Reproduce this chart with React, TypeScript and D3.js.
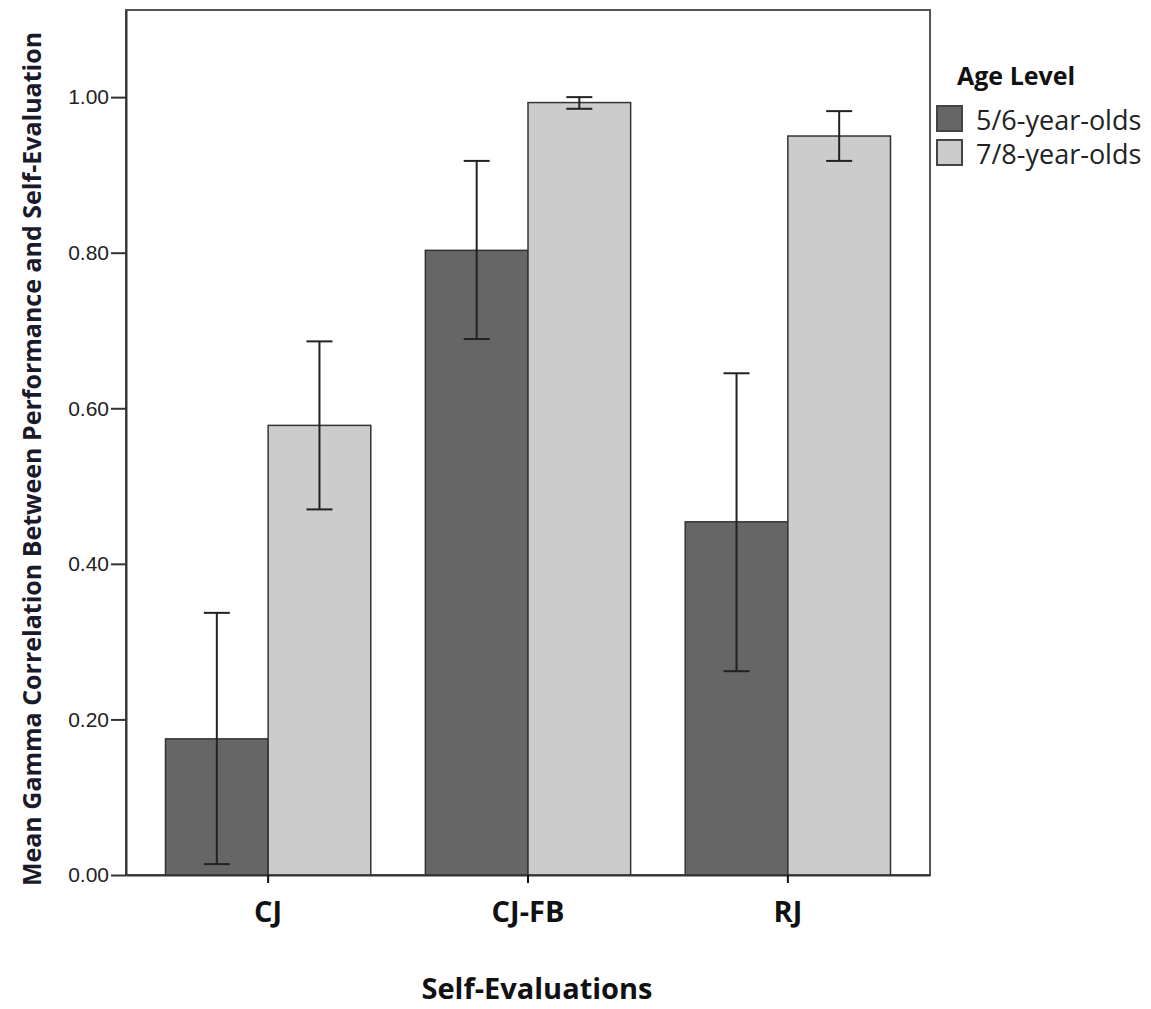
import React, { useEffect, useRef } from 'react'
import * as d3 from 'd3'

const categories = ['CJ', 'CJ-FB', 'RJ']
const ageGroups = ['5/6-year-olds', '7/8-year-olds']
const youngMeans = [0.175, 0.803, 0.454]
const youngLower = [0.014, 0.689, 0.262]
const youngUpper = [0.337, 0.918, 0.645]
const olderMeans = [0.578, 0.993, 0.95]
const olderLower = [0.47, 0.985, 0.918]
const olderUpper = [0.686, 1.0, 0.982]
const yTicks = [0, 0.2, 0.4, 0.6, 0.8, 1.0]

const W = 1151
const H = 1009
const plot = { left: 126, right: 930, top: 10, bottom: 875 }
const colors = ['#666666', '#cccccc']

const App = () => {
    const svgRef = useRef<SVGSVGElement>(null)

    useEffect(() => {
        const svg = d3.select(svgRef.current)
        svg.selectAll('*').remove()

        const rows = categories.map((c, i) => ({
            cat: c,
            vals: [
                { g: ageGroups[0], m: youngMeans[i], lo: youngLower[i], hi: youngUpper[i] },
                { g: ageGroups[1], m: olderMeans[i], lo: olderLower[i], hi: olderUpper[i] },
            ],
        }))

        const x0 = d3.scaleBand().domain(categories)
            .range([plot.left, plot.right])
            .paddingInner(0.21)
            .paddingOuter(0.152)
        const x1 = d3.scaleBand().domain(ageGroups).range([0, x0.bandwidth()])
        const y = d3.scaleLinear().domain([0, 1.112]).range([plot.bottom, plot.top])
        const color = d3.scaleOrdinal<string, string>().domain(ageGroups).range(colors)

        // frame
        svg.append('rect')
            .attr('x', plot.left).attr('y', plot.top)
            .attr('width', plot.right - plot.left).attr('height', plot.bottom - plot.top)
            .attr('fill', 'none').attr('stroke', '#555').attr('stroke-width', 2)

        // bars
        const grp = svg.append('g').selectAll('g').data(rows).join('g')
            .attr('transform', d => `translate(${x0(d.cat)},0)`)

        grp.selectAll('rect').data(d => d.vals).join('rect')
            .attr('x', d => x1(d.g)!)
            .attr('y', d => y(d.m))
            .attr('width', x1.bandwidth())
            .attr('height', d => y(0) - y(d.m))
            .attr('fill', d => color(d.g))
            .attr('stroke', '#333')
            .attr('stroke-width', 1.5)

        // error bars
        const cap = 13
        const eb = grp.selectAll('g.err').data(d => d.vals).join('g').attr('class', 'err')
            .attr('transform', d => `translate(${x1(d.g)! + x1.bandwidth() / 2},0)`)
            .attr('stroke', '#222').attr('stroke-width', 2)
        eb.append('line').attr('x1', 0).attr('x2', 0).attr('y1', d => y(d.lo)).attr('y2', d => y(d.hi))
        eb.append('line').attr('x1', -cap).attr('x2', cap).attr('y1', d => y(d.hi)).attr('y2', d => y(d.hi))
        eb.append('line').attr('x1', -cap).attr('x2', cap).attr('y1', d => y(d.lo)).attr('y2', d => y(d.lo))

        // y axis
        const yAxis = svg.append('g')
            .attr('transform', `translate(${plot.left},0)`)
            .call(d3.axisLeft(y).tickValues(yTicks).tickFormat(d3.format('.2f'))
                .tickSize(15).tickSizeOuter(0).tickPadding(2))
        yAxis.select('.domain').attr('stroke', '#333').attr('stroke-width', 2)
        yAxis.selectAll('.tick line').attr('stroke', '#333').attr('stroke-width', 2)
        yAxis.selectAll('.tick text')
            .attr('font-family', '"Liberation Sans", Arial, sans-serif')
            .attr('font-size', 21).attr('fill', '#222')

        // x axis
        const xAxis = svg.append('g')
            .attr('transform', `translate(0,${plot.bottom})`)
            .call(d3.axisBottom(x0).tickSize(8).tickSizeOuter(0).tickPadding(18))
        xAxis.select('.domain').attr('stroke', '#333').attr('stroke-width', 2)
        xAxis.selectAll('.tick line').attr('stroke', '#111').attr('stroke-width', 2)
        xAxis.selectAll('.tick text')
            .attr('font-family', '"Open Sans", sans-serif')
            .attr('font-weight', 700).attr('font-size', 29).attr('fill', '#111')

        // axis titles
        svg.append('text')
            .attr('x', 537).attr('y', 999)
            .attr('text-anchor', 'middle')
            .attr('font-family', '"Open Sans", sans-serif')
            .attr('font-weight', 700).attr('font-size', 29).attr('fill', '#111')
            .text('Self-Evaluations')

        svg.append('text')
            .attr('transform', 'translate(41,459) rotate(-90)')
            .attr('text-anchor', 'middle')
            .attr('font-family', '"Open Sans", sans-serif')
            .attr('font-weight', 700).attr('font-size', 25).attr('fill', '#1a1a2a')
            .text('Mean Gamma Correlation Between Performance and Self-Evaluation')

        // legend
        const lg = svg.append('g')
        lg.append('text')
            .attr('x', 957).attr('y', 85)
            .attr('font-family', '"Open Sans", sans-serif')
            .attr('font-weight', 700).attr('font-size', 25).attr('fill', '#111')
            .text('Age Level')
        const items = lg.selectAll('g.item').data(ageGroups).join('g').attr('class', 'item')
            .attr('transform', (d, i) => `translate(937,${106 + i * 34})`)
        items.append('rect')
            .attr('width', 25).attr('height', 25)
            .attr('fill', d => color(d)).attr('stroke', '#444').attr('stroke-width', 2)
        items.append('text')
            .attr('x', 39).attr('y', 24)
            .attr('font-family', '"Open Sans", sans-serif')
            .attr('font-size', 27).attr('fill', '#222')
            .text(d => d)
    }, [])

    return (
        <svg ref={svgRef} width={W} height={H}
            style={{ position: 'absolute', left: 0, top: 0, background: '#fff' }} />
    )
}

export default App
